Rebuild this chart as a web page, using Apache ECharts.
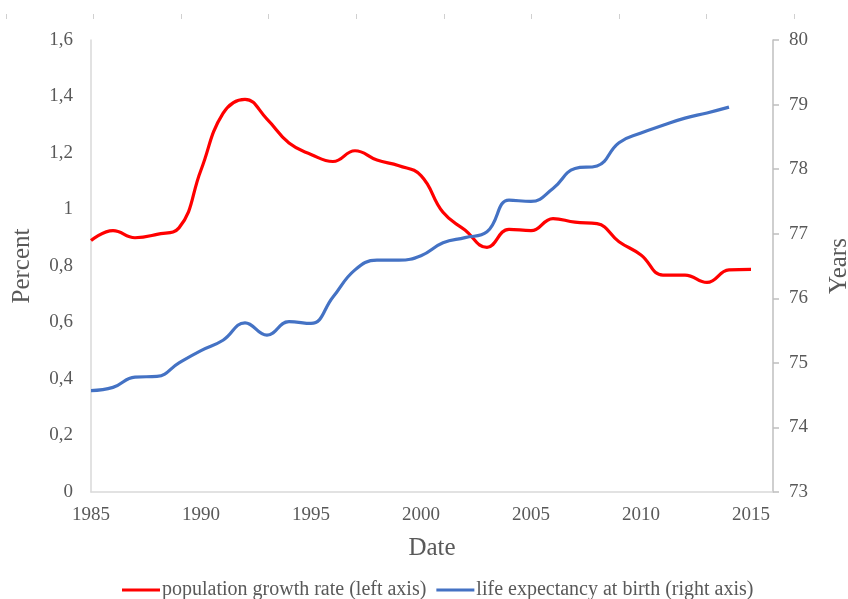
<!DOCTYPE html>
<html>
<head>
<meta charset="utf-8">
<script src="https://cdn.jsdelivr.net/npm/echarts@6/dist/echarts.min.js"></script>
<style>
html,body{margin:0;padding:0;background:#fff;}
#chart{width:848px;height:599px;}
</style>
</head>
<body>
<div id="chart"></div>
<script>
const years = [1985,1986,1987,1988,1989,1990,1991,1992,1993,1994,1995,1996,1997,1998,1999,2000,2001,2002,2003,2004,2005,2006,2007,2008,2009,2010,2011,2012,2013,2014,2015];
const growthRate = [0.89,0.925,0.90,0.912,0.935,1.14,1.34,1.39,1.32,1.235,1.195,1.17,1.208,1.175,1.155,1.12,0.99,0.927,0.866,0.93,0.925,0.968,0.955,0.95,0.886,0.839,0.768,0.768,0.742,0.786,0.788];
const lifeYears = [1985,1986,1987,1988,1989,1990,1991,1992,1993,1994,1995,1996,1997,1998,1999,2000,2001,2002,2003,2004,2005,2006,2007,2008,2009,2010,2011,2012,2013,2014];
const lifeExpectancy = [74.57,74.62,74.78,74.79,75.0,75.19,75.35,75.62,75.43,75.64,75.61,76.02,76.44,76.59,76.59,76.66,76.86,76.94,77.03,77.52,77.50,77.70,78.01,78.05,78.41,78.56,78.68,78.79,78.87,78.96];
const seriesNames = ['population growth rate (left axis)','life expectancy at birth (right axis)'];
const FONT = 'Liberation Serif';
const LABEL = '#595959';

const chart = echarts.init(document.getElementById('chart'));
chart.setOption({
  animation: false,
  backgroundColor: '#fff',
  textStyle: {fontFamily: FONT},
  grid: [
    {left: 91, right: 75, top: 40, bottom: 107, containLabel: false, outerBoundsMode: 'none'},
    {left: 6, right: 54, top: 18, height: 1, containLabel: false, outerBoundsMode: 'none'}
  ],
  legend: {
    left: 117, top: 575,
    itemGap: 10, itemWidth: 38, itemHeight: 3,
    icon: 'rect',
    textStyle: {fontFamily: FONT, fontSize: 20, color: LABEL, padding: [0,0,0,-3]},
    data: seriesNames
  },
  xAxis: [
    {
      type: 'value', min: 1985, max: 2016, interval: 5,
      name: 'Date', nameLocation: 'middle', nameGap: 44,
      nameTextStyle: {fontFamily: FONT, fontSize: 25, color: LABEL},
      axisLine: {show: true, lineStyle: {color: '#d9d9d9', width: 1.5}},
      axisTick: {show: false},
      splitLine: {show: false},
      axisLabel: {color: LABEL, fontSize: 19, fontFamily: FONT, margin: 14, showMaxLabel: false,
        formatter: v => String(v)}
    },
    {
      gridIndex: 1, type: 'value', position: 'top', min: 0, max: 9, interval: 1,
      axisLine: {show: false},
      axisTick: {show: true, length: 5, lineStyle: {color: '#d0d0d0'}},
      axisLabel: {show: false},
      splitLine: {show: false}
    }
  ],
  yAxis: [
    {
      type: 'value', min: 0, max: 1.6, interval: 0.2,
      name: 'Percent', nameLocation: 'middle', nameGap: 56, nameRotate: 90,
      nameTextStyle: {fontFamily: FONT, fontSize: 25, color: LABEL},
      axisLine: {show: true, lineStyle: {color: '#d9d9d9', width: 1.5}},
      axisTick: {show: false},
      splitLine: {show: false},
      axisLabel: {color: LABEL, fontSize: 19, fontFamily: FONT, margin: 18,
        formatter: v => String(Math.round(v*10)/10).replace('.', ',')}
    },
    {
      type: 'value', min: 73, max: 80, interval: 1, position: 'right',
      name: 'Years', nameLocation: 'middle', nameGap: 54, nameRotate: 90,
      nameTextStyle: {fontFamily: FONT, fontSize: 25, color: LABEL},
      axisLine: {show: true, lineStyle: {color: '#bfbfbf', width: 1.5}},
      axisTick: {show: true, length: 6, inside: false, lineStyle: {color: '#bfbfbf', width: 1.5}},
      splitLine: {show: false},
      axisLabel: {color: LABEL, fontSize: 19, fontFamily: FONT, margin: 16}
    },
    {gridIndex: 1, type: 'value', show: false, min: 0, max: 1}
  ],
  series: [
    {
      name: seriesNames[0], type: 'line', xAxisIndex: 0, yAxisIndex: 0,
      data: years.map((y, i) => [y, growthRate[i]]),
      smooth: 0.45, showSymbol: false, symbol: 'none',
      lineStyle: {color: '#ff0000', width: 3.2},
      itemStyle: {color: '#ff0000'}
    },
    {
      name: seriesNames[1], type: 'line', xAxisIndex: 0, yAxisIndex: 1,
      data: lifeYears.map((y, i) => [y, lifeExpectancy[i]]),
      smooth: 0.45, showSymbol: false, symbol: 'none',
      lineStyle: {color: '#4472c4', width: 3.2},
      itemStyle: {color: '#4472c4'}
    }
  ]
});
</script>
</body>
</html>
